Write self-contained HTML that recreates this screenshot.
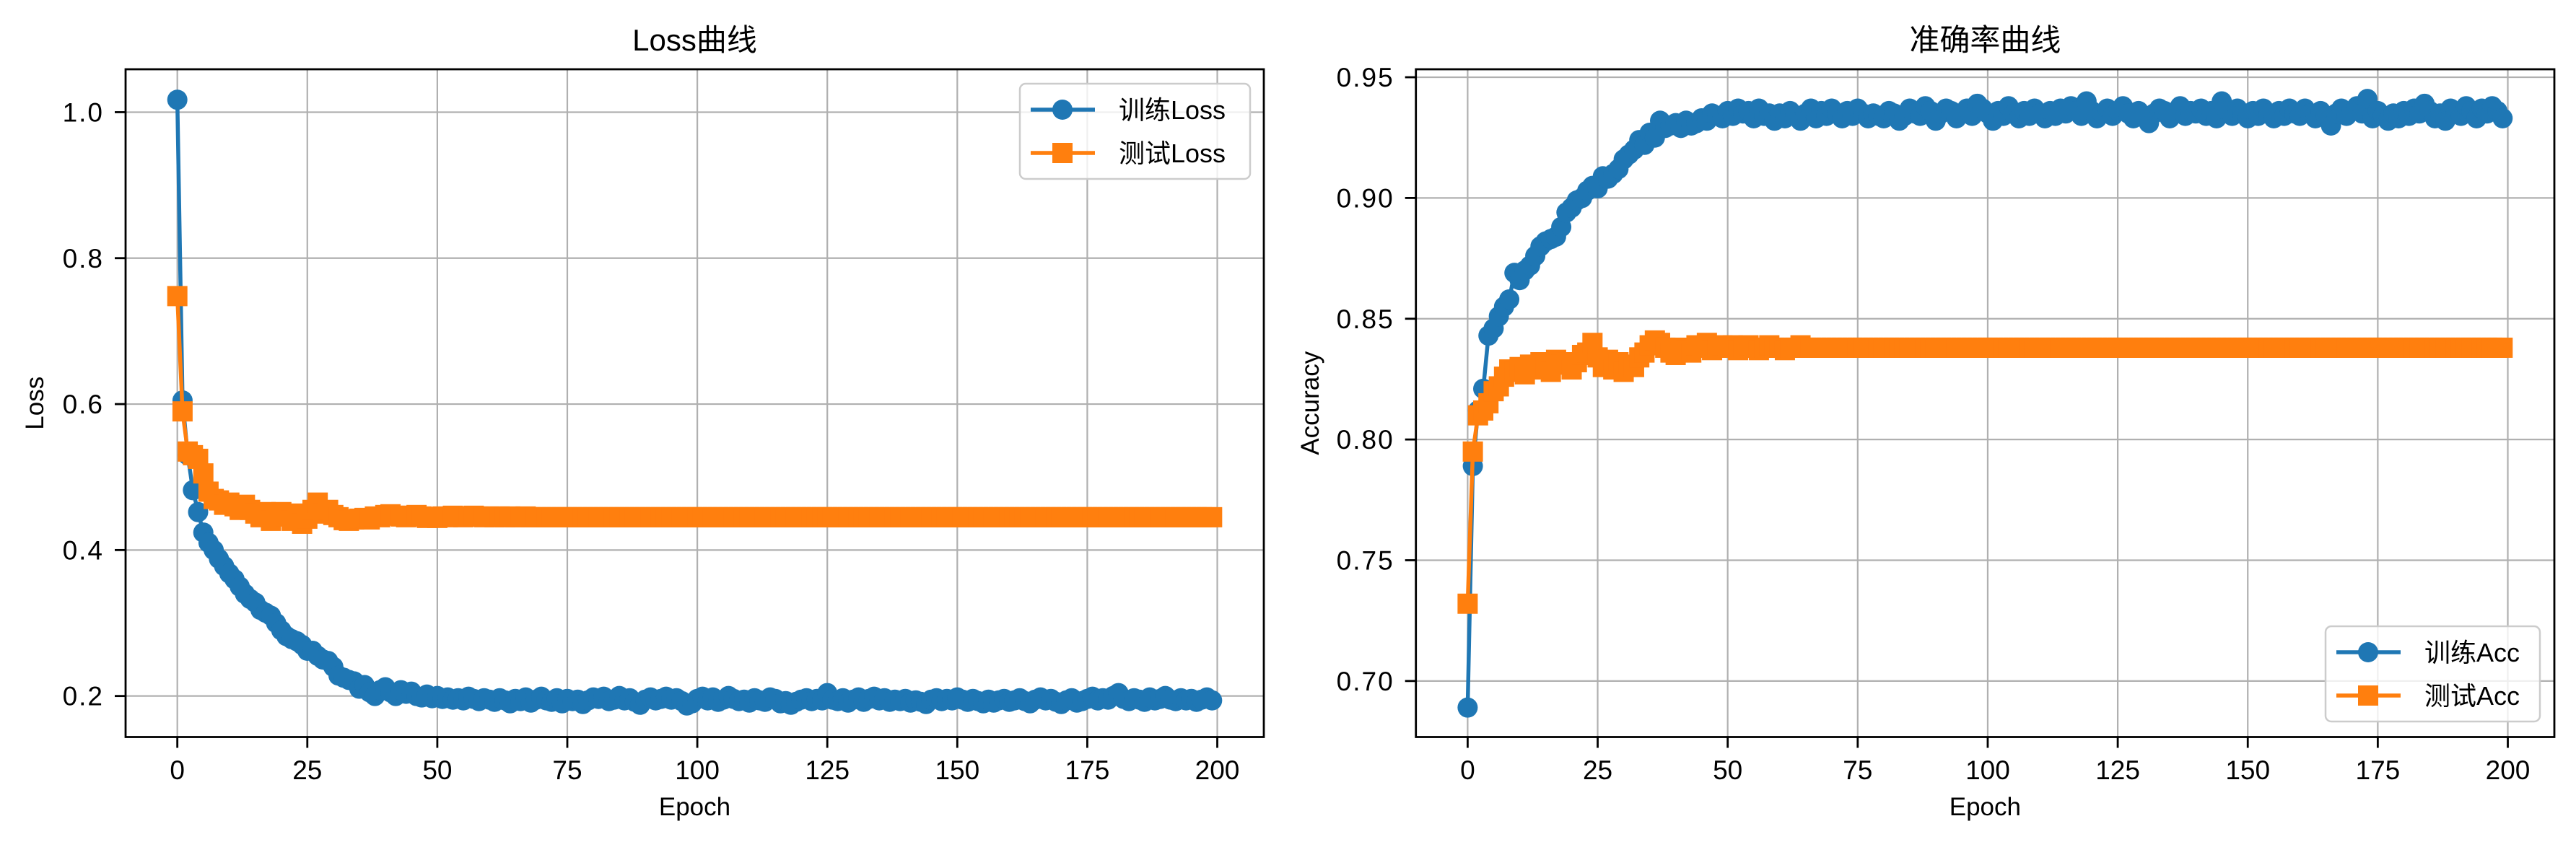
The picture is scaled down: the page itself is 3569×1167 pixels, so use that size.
<!DOCTYPE html>
<html><head><meta charset="utf-8">
<style>
html,body{margin:0;padding:0;background:#fff;}
svg{display:block;}
text{font-family:"Liberation Sans","Noto Sans CJK SC",sans-serif;fill:#000;}
</style></head>
<body>
<svg id="fig" width="3569" height="1167" viewBox="0 0 3569 1167" xmlns="http://www.w3.org/2000/svg">
<rect width="3569" height="1167" fill="#fff"/>
<g id="left"></g>
<g id="right"></g>
</svg>
<script>
const epochTicks = [0, 25, 50, 75, 100, 125, 150, 175, 200];
const lossTicks = [0.2, 0.4, 0.6, 0.8, 1.0];
const lossTickLabels = ["0.2", "0.4", "0.6", "0.8", "1.0"];
const accTicks = [0.70, 0.75, 0.80, 0.85, 0.90, 0.95];
const accTickLabels = ["0.70", "0.75", "0.80", "0.85", "0.90", "0.95"];

const trainLoss = [
1.017,0.605,0.530,0.482,0.452,0.424,0.410,0.400,0.388,0.378,
0.368,0.360,0.350,0.340,0.333,0.328,0.318,0.314,0.310,0.300,
0.290,0.282,0.278,0.275,0.270,0.262,0.262,0.255,0.250,0.248,
0.240,0.228,0.225,0.222,0.220,0.210,0.215,0.205,0.200,0.208,
0.212,0.205,0.200,0.208,0.203,0.206,0.200,0.198,0.202,0.197,
0.200,0.196,0.198,0.195,0.197,0.194,0.199,0.196,0.193,0.197,
0.195,0.192,0.197,0.194,0.190,0.196,0.193,0.198,0.191,0.195,
0.199,0.194,0.192,0.197,0.190,0.196,0.193,0.195,0.189,0.194,
0.198,0.196,0.199,0.193,0.195,0.200,0.194,0.197,0.192,0.188,
0.195,0.198,0.194,0.196,0.199,0.195,0.197,0.193,0.187,0.190,
0.196,0.199,0.194,0.198,0.192,0.195,0.200,0.196,0.193,0.195,
0.191,0.197,0.194,0.192,0.198,0.196,0.190,0.193,0.188,0.192,
0.195,0.197,0.193,0.196,0.194,0.204,0.195,0.193,0.197,0.191,
0.195,0.198,0.192,0.196,0.199,0.194,0.197,0.192,0.195,0.193,
0.196,0.191,0.194,0.192,0.189,0.195,0.197,0.193,0.196,0.194,
0.198,0.195,0.192,0.196,0.193,0.190,0.195,0.191,0.194,0.196,
0.192,0.194,0.197,0.193,0.190,0.195,0.198,0.194,0.196,0.192,
0.189,0.194,0.197,0.191,0.193,0.196,0.199,0.194,0.197,0.195,
0.200,0.204,0.196,0.193,0.197,0.195,0.192,0.198,0.194,0.196,
0.200,0.195,0.193,0.197,0.194,0.196,0.192,0.195,0.198,0.194];

const testLoss = [
0.748,0.590,0.535,0.530,0.525,0.505,0.480,0.470,0.468,0.462,
0.465,0.460,0.455,0.462,0.455,0.450,0.445,0.452,0.440,0.448,
0.452,0.446,0.440,0.450,0.436,0.443,0.455,0.465,0.450,0.455,
0.448,0.445,0.441,0.440,0.442,0.443,0.444,0.442,0.446,0.445,
0.448,0.449,0.447,0.446,0.445,0.447,0.448,0.446,0.444,0.445,
0.444,0.446,0.445,0.447,0.446,0.445,0.446,0.447,0.446,0.445,
0.446,0.445,0.446,0.445,0.446,0.445,0.445,0.446,0.445,0.445,
0.445,0.445,0.445,0.445,0.445,0.445,0.445,0.445,0.445,0.445,
0.445,0.445,0.445,0.445,0.445,0.445,0.445,0.445,0.445,0.445,
0.445,0.445,0.445,0.445,0.445,0.445,0.445,0.445,0.445,0.445,
0.445,0.445,0.445,0.445,0.445,0.445,0.445,0.445,0.445,0.445,
0.445,0.445,0.445,0.445,0.445,0.445,0.445,0.445,0.445,0.445,
0.445,0.445,0.445,0.445,0.445,0.445,0.445,0.445,0.445,0.445,
0.445,0.445,0.445,0.445,0.445,0.445,0.445,0.445,0.445,0.445,
0.445,0.445,0.445,0.445,0.445,0.445,0.445,0.445,0.445,0.445,
0.445,0.445,0.445,0.445,0.445,0.445,0.445,0.445,0.445,0.445,
0.445,0.445,0.445,0.445,0.445,0.445,0.445,0.445,0.445,0.445,
0.445,0.445,0.445,0.445,0.445,0.445,0.445,0.445,0.445,0.445,
0.445,0.445,0.445,0.445,0.445,0.445,0.445,0.445,0.445,0.445,
0.445,0.445,0.445,0.445,0.445,0.445,0.445,0.445,0.445,0.445];

const trainAcc = [
0.689,0.789,0.812,0.821,0.843,0.846,0.851,0.855,0.858,0.869,
0.866,0.870,0.872,0.876,0.880,0.882,0.883,0.884,0.888,0.894,
0.896,0.899,0.900,0.903,0.905,0.904,0.909,0.908,0.910,0.912,
0.916,0.918,0.920,0.924,0.922,0.927,0.925,0.932,0.929,0.930,
0.931,0.929,0.932,0.930,0.931,0.933,0.932,0.935,0.934,0.933,
0.936,0.934,0.937,0.935,0.936,0.933,0.937,0.934,0.935,0.932,
0.935,0.933,0.936,0.934,0.932,0.935,0.937,0.933,0.936,0.934,
0.937,0.935,0.933,0.936,0.934,0.937,0.935,0.933,0.935,0.934,
0.933,0.936,0.935,0.932,0.934,0.937,0.935,0.934,0.938,0.936,
0.932,0.935,0.937,0.936,0.933,0.935,0.937,0.934,0.939,0.937,
0.935,0.932,0.936,0.934,0.938,0.935,0.933,0.936,0.934,0.937,
0.935,0.933,0.936,0.934,0.937,0.935,0.938,0.936,0.934,0.940,
0.936,0.933,0.935,0.937,0.934,0.936,0.938,0.935,0.933,0.936,
0.934,0.931,0.935,0.937,0.936,0.933,0.935,0.938,0.934,0.936,
0.935,0.937,0.934,0.936,0.933,0.940,0.936,0.934,0.937,0.935,
0.933,0.936,0.934,0.937,0.935,0.933,0.936,0.934,0.937,0.935,
0.934,0.937,0.935,0.933,0.936,0.934,0.930,0.935,0.937,0.934,
0.936,0.938,0.935,0.941,0.933,0.936,0.934,0.932,0.935,0.933,
0.936,0.934,0.937,0.935,0.939,0.936,0.933,0.935,0.932,0.937,
0.935,0.934,0.938,0.936,0.933,0.937,0.935,0.938,0.936,0.933];

const testAcc = [
0.732,0.795,0.810,0.812,0.815,0.820,0.822,0.826,0.829,0.828,
0.830,0.827,0.831,0.829,0.832,0.830,0.828,0.833,0.831,0.832,
0.829,0.832,0.835,0.836,0.840,0.834,0.830,0.833,0.829,0.832,
0.828,0.831,0.830,0.834,0.836,0.839,0.841,0.840,0.838,0.836,
0.835,0.838,0.837,0.836,0.839,0.838,0.840,0.837,0.838,0.839,
0.838,0.839,0.837,0.838,0.839,0.838,0.837,0.838,0.839,0.838,
0.838,0.837,0.838,0.838,0.839,0.838,0.838,0.838,0.838,0.838,
0.838,0.838,0.838,0.838,0.838,0.838,0.838,0.838,0.838,0.838,
0.838,0.838,0.838,0.838,0.838,0.838,0.838,0.838,0.838,0.838,
0.838,0.838,0.838,0.838,0.838,0.838,0.838,0.838,0.838,0.838,
0.838,0.838,0.838,0.838,0.838,0.838,0.838,0.838,0.838,0.838,
0.838,0.838,0.838,0.838,0.838,0.838,0.838,0.838,0.838,0.838,
0.838,0.838,0.838,0.838,0.838,0.838,0.838,0.838,0.838,0.838,
0.838,0.838,0.838,0.838,0.838,0.838,0.838,0.838,0.838,0.838,
0.838,0.838,0.838,0.838,0.838,0.838,0.838,0.838,0.838,0.838,
0.838,0.838,0.838,0.838,0.838,0.838,0.838,0.838,0.838,0.838,
0.838,0.838,0.838,0.838,0.838,0.838,0.838,0.838,0.838,0.838,
0.838,0.838,0.838,0.838,0.838,0.838,0.838,0.838,0.838,0.838,
0.838,0.838,0.838,0.838,0.838,0.838,0.838,0.838,0.838,0.838,
0.838,0.838,0.838,0.838,0.838,0.838,0.838,0.838,0.838,0.838];

const NS = "http://www.w3.org/2000/svg";
function mk(parent, tag, attrs, txt) {
  const e = document.createElementNS(NS, tag);
  for (const k in attrs) e.setAttribute(k, attrs[k]);
  if (txt !== undefined) e.textContent = txt;
  parent.appendChild(e);
  return e;
}
const BLUE = "#1f77b4", ORANGE = "#ff7f0e";

function drawChart(g, cfg) {
  const L = cfg.left, R = cfg.right, T = 96, B = 1021.5;
  const n = cfg.s1.length;
  const xmin = -(n - 1) * 0.05, xmax = (n - 1) * 1.05;
  const xs = v => L + (v - xmin) / (xmax - xmin) * (R - L);
  const ys = v => B - (v - cfg.ymin) / (cfg.ymax - cfg.ymin) * (B - T);

  // grid
  epochTicks.forEach(t => {
    const gl = mk(g, "line", {x1: xs(t), x2: xs(t), y1: T, y2: B, stroke: "#b0b0b0", "stroke-width": 2.2});
    
    
  });
  cfg.yticks.forEach(t => {
    const gl = mk(g, "line", {x1: L, x2: R, y1: ys(t), y2: ys(t), stroke: "#b0b0b0", "stroke-width": 2.2});
    
    
  });

  // series
  const series = [[cfg.s1, BLUE, "circle", cfg.n1], [cfg.s2, ORANGE, "square", cfg.n2]];
  series.forEach(([arr, col, mkType, nm]) => {
    const sg = mk(g, "g", {});
    
    
    const pts = arr.map((v, i) => xs(i).toFixed(2) + "," + ys(v).toFixed(2)).join(" ");
    const pl = mk(sg, "polyline", {points: pts, fill: "none", stroke: col, "stroke-width": 5.5, "stroke-linejoin": "round"});
    
    
    arr.forEach((v, i) => {
      let m;
      if (mkType === "circle") m = mk(sg, "circle", {cx: xs(i), cy: ys(v), r: 14, fill: col});
      else m = mk(sg, "rect", {x: xs(i) - 14, y: ys(v) - 14, width: 28, height: 28, fill: col});
      
      
    });
  });

  // spines
  const sp = mk(g, "rect", {x: L, y: T, width: R - L, height: B - T, fill: "none", stroke: "#000", "stroke-width": 2.8});
  
  

  // x ticks
  epochTicks.forEach(t => {
    mk(g, "line", {x1: xs(t), x2: xs(t), y1: B, y2: B + 15, stroke: "#000", "stroke-width": 2.8});
    const tl = mk(g, "text", {x: xs(t), y: 1080, "font-size": 37, "text-anchor": "middle"}, String(t));
    
    
  });
  // y ticks
  cfg.yticks.forEach((t, i) => {
    mk(g, "line", {x1: L - 15, x2: L, y1: ys(t), y2: ys(t), stroke: "#000", "stroke-width": 2.8});
    const tl = mk(g, "text", {x: L - 30, y: ys(t) + 13, "font-size": 37, "text-anchor": "end", "letter-spacing": 2}, cfg.ylabels[i]);
    
    
  });

  const xt = mk(g, "text", {x: (L + R) / 2, y: 1130, "font-size": 35, "text-anchor": "middle"}, "Epoch");
  
  
  const yt = mk(g, "text", {x: 0, y: 0, "font-size": 35, "text-anchor": "middle", transform: `translate(${cfg.ylabX},${(T + B) / 2}) rotate(-90)`}, cfg.ylabel);
  
  
  const tt = mk(g, "text", {x: (L + R) / 2, y: 70, "font-size": 42, "text-anchor": "middle"}, cfg.title);
  
  

  // legend
  const lg = cfg.legend;
  const leg = mk(g, "g", {});
  
  
  mk(leg, "rect", {x: lg.x, y: lg.y, width: lg.w, height: lg.h, rx: 8, fill: "#fff", "fill-opacity": 0.8, stroke: "#cccccc", "stroke-width": 2.5});
  [[BLUE, "circle", cfg.l1, lg.r1], [ORANGE, "square", cfg.l2, lg.r2]].forEach(([col, mt, label, yy]) => {
    const e = mk(leg, "g", {});
    
    
    mk(e, "line", {x1: lg.x + 15, x2: lg.x + 104, y1: yy, y2: yy, stroke: col, "stroke-width": 5.5});
    if (mt === "circle") mk(e, "circle", {cx: lg.x + 59, cy: yy, r: 14, fill: col});
    else mk(e, "rect", {x: lg.x + 45, y: yy - 14, width: 28, height: 28, fill: col});
    mk(e, "text", {x: lg.x + 137, y: yy + 13, "font-size": 36}, label);
  });
}

drawChart(document.getElementById("left"), {
  left: 174, right: 1751, ymin: 0.1438, ymax: 1.0588,
  yticks: lossTicks, ylabels: lossTickLabels,
  s1: trainLoss, s2: testLoss, n1: "train-loss-series", n2: "test-loss-series",
  title: "Loss曲线", ylabel: "Loss", ylabX: 60,
  l1: "训练Loss", l2: "测试Loss",
  legend: {x: 1413, y: 116, w: 319, h: 132, r1: 152, r2: 212}
});
drawChart(document.getElementById("right"), {
  left: 1961.7, right: 3539, ymin: 0.6768, ymax: 0.9533,
  yticks: accTicks, ylabels: accTickLabels,
  s1: trainAcc, s2: testAcc, n1: "train-acc-series", n2: "test-acc-series",
  title: "准确率曲线", ylabel: "Accuracy", ylabX: 1827,
  l1: "训练Acc", l2: "测试Acc",
  legend: {x: 3222, y: 868, w: 297, h: 132, r1: 904, r2: 964}
});
</script>
</body></html>
